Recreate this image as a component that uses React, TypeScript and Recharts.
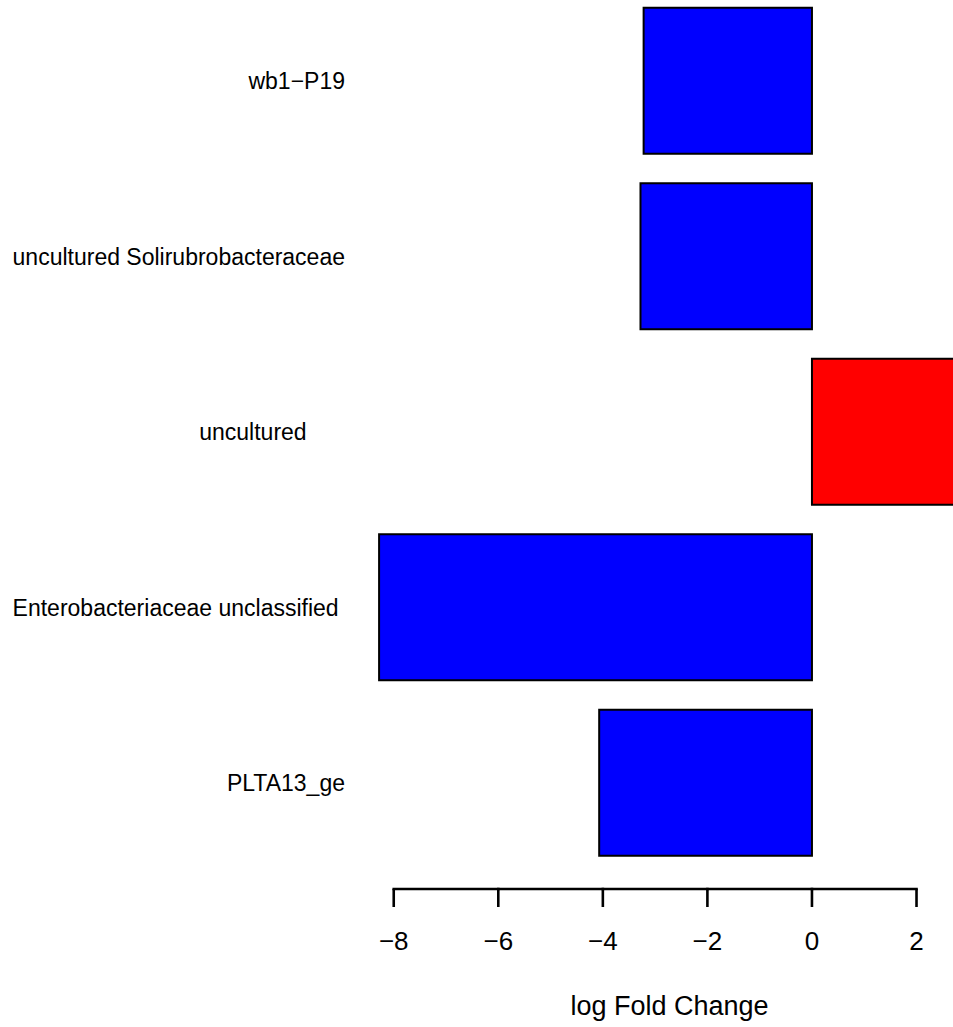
import { BarChart, Bar, XAxis, YAxis, Cell, Label } from 'recharts';

// taxa, top to bottom (R pads some names with trailing spaces)
const taxa = [
  'wb1−P19',
  'uncultured Solirubrobacteraceae',
  'uncultured      ',
  'Enterobacteriaceae unclassified ',
  'PLTA13_ge',
];
const logFoldChange = [-3.22, -3.28, 2.85, -8.28, -4.07];
const xTicks = [-8, -6, -4, -2, 0, 2];

const chartData = taxa.map((name, i) => ({ name, lfc: logFoldChange[i] }));

const FONT = '"Liberation Sans", Arial, Helvetica, sans-serif';
const X_DOMAIN: [number, number] = [-8.76, 3.31];
const Y_AXIS_WIDTH = 354;
const CHART_WIDTH = 985;
const CHART_HEIGHT = 1034;
const X_AXIS_HEIGHT = 156.5;
const PX_PER_UNIT = (CHART_WIDTH - Y_AXIS_WIDTH) / (X_DOMAIN[1] - X_DOMAIN[0]);

const minus = (v: number) => String(v).replace('-', '\u2212');

const TaxonTick = ({ x, y, payload }: any) => (
  <text
    x={x - 9}
    y={y + 8.5}
    textAnchor="end"
    fontSize={23}
    fontFamily={FONT}
    fill="#000"
    xmlSpace="preserve"
    style={{ whiteSpace: 'pre' }}
  >
    {payload.value}
  </text>
);

// R style axis: line only spans first to last tick
const FoldTick = ({ x, y, payload }: any) => {
  const i = xTicks.indexOf(payload.value);
  const next = xTicks[i + 1];
  const lineY = y + 18.5;
  return (
    <g>
      {next !== undefined && (
        <line
          x1={x}
          y1={lineY}
          x2={x + (next - payload.value) * PX_PER_UNIT}
          y2={lineY}
          stroke="#000"
          strokeWidth={2.6}
          strokeLinecap="square"
        />
      )}
      <line x1={x} y1={lineY} x2={x} y2={y + 36.5} stroke="#000" strokeWidth={2.6} />
      <text x={x} y={y + 79} textAnchor="middle" fontSize={26} fontFamily={FONT} fill="#000">
        {minus(payload.value)}
      </text>
    </g>
  );
};

export default function App() {
  return (
    <div
      style={{
        position: 'absolute',
        left: 0,
        top: 0,
        width: 953,
        height: 1027,
        overflow: 'hidden',
        background: '#fff',
      }}
    >
      <div style={{ position: 'relative', top: -7 }}>
        <BarChart
          width={CHART_WIDTH}
          height={CHART_HEIGHT}
          data={chartData}
          layout="vertical"
          margin={{ top: 0, right: 0, bottom: 0, left: 0 }}
          barCategoryGap="8.4%"
        >
          <XAxis
            type="number"
            dataKey="lfc"
            domain={X_DOMAIN}
            ticks={xTicks}
            axisLine={false}
            tickLine={false}
            tickSize={0}
            tickMargin={0}
            height={X_AXIS_HEIGHT}
            tick={<FoldTick />}
            interval={0}
          >
            <Label
              value="log Fold Change"
              position="insideBottom"
              offset={12}
              fontSize={27}
              fontFamily={FONT}
              fill="#000"
            />
          </XAxis>
          <YAxis
            type="category"
            dataKey="name"
            width={Y_AXIS_WIDTH}
            axisLine={false}
            tickLine={false}
            tickSize={0}
            tickMargin={0}
            tick={<TaxonTick />}
            interval={0}
          />
          <Bar dataKey="lfc" stroke="#000" strokeWidth={2} isAnimationActive={false}>
            {chartData.map((d) => (
              <Cell key={d.name} fill={d.lfc < 0 ? '#0000FF' : '#FF0000'} />
            ))}
          </Bar>
        </BarChart>
      </div>
    </div>
  );
}
